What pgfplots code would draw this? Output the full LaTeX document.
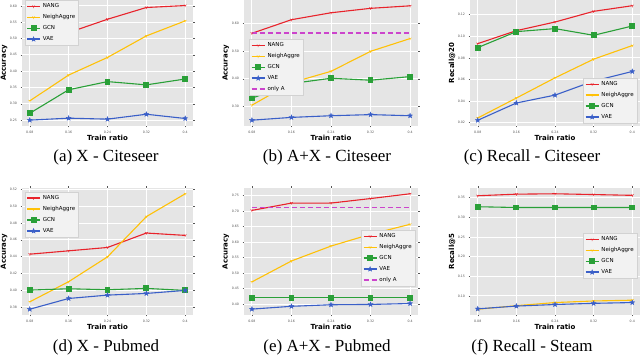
\documentclass[border=0pt]{standalone}
\usepackage{fontspec}
\setmainfont{Liberation Serif}
\newfontfamily\dejavu{DejaVu Sans}
\usepackage{pgfplots}
\pgfplotsset{compat=1.18}
\usetikzlibrary{plotmarks}

\definecolor{nangred}{HTML}{E8232B}
\definecolor{neighyel}{HTML}{FFC107}
\definecolor{gcngreen}{HTML}{2AA038}
\definecolor{vaeblue}{HTML}{3A5FC8}
\definecolor{onlyamag}{HTML}{CC44CC}
\definecolor{ggbg}{HTML}{E5E5E5}
\definecolor{ticktxt}{HTML}{555555}

% filled five-pointed star, like matplotlib's '*'
\pgfdeclareplotmark{fstar}{%
  \pgfpathmoveto{\pgfpointpolar{90}{\pgfplotmarksize}}%
  \pgfpathlineto{\pgfpointpolar{126}{0.42\pgfplotmarksize}}%
  \pgfpathlineto{\pgfpointpolar{162}{\pgfplotmarksize}}%
  \pgfpathlineto{\pgfpointpolar{198}{0.42\pgfplotmarksize}}%
  \pgfpathlineto{\pgfpointpolar{234}{\pgfplotmarksize}}%
  \pgfpathlineto{\pgfpointpolar{270}{0.42\pgfplotmarksize}}%
  \pgfpathlineto{\pgfpointpolar{306}{\pgfplotmarksize}}%
  \pgfpathlineto{\pgfpointpolar{342}{0.42\pgfplotmarksize}}%
  \pgfpathlineto{\pgfpointpolar{18}{\pgfplotmarksize}}%
  \pgfpathlineto{\pgfpointpolar{54}{0.42\pgfplotmarksize}}%
  \pgfpathclose
  \pgfusepathqfillstroke
}

\pgfplotsset{
  gg/.style={
    scale only axis,
    anchor=south west,
    xmin=0.064, xmax=0.416,
    xtick={0.08,0.16,0.24,0.32,0.4},
    xticklabels={0.08,0.16,0.24,0.32,0.4},
    axis background/.style={fill=ggbg},
    axis line style={draw=none},
    grid=major,
    major grid style={white, line width=0.9pt},
    tick align=outside,
    major tick length=1.5pt,
    tick style={ticktxt, line width=0.4pt},
    tick label style={font=\dejavu\fontsize{3.2}{4}\selectfont, text=ticktxt},
    /pgf/number format/assume math mode=true,
    scaled y ticks=false,
    yticklabel style={/pgf/number format/fixed, /pgf/number format/fixed zerofill, /pgf/number format/precision=2},
    xlabel={Train ratio},
    xlabel style={font=\dejavu\bfseries\fontsize{7}{8}\selectfont, at={(axis description cs:0.5,-0.095)}, anchor=center},
    ylabel style={font=\dejavu\bfseries\fontsize{7}{8}\selectfont, at={(axis description cs:-0.105,0.5)}, anchor=center},
    legend style={font=\dejavu\fontsize{5.5}{6}\selectfont, fill=ggbg!50, draw=gray!35, row sep=1.3pt, inner sep=1.5pt, cells={anchor=west}},
    legend image code/.code={%
      \draw[##1, line width=1.6pt, mark=none] (0pt,0pt) -- (13pt,0pt);
      \draw[##1] plot coordinates {(6.5pt,0pt)};},
  },
  nang/.style={color=nangred, line width=1.1pt, mark=Mercedes star flipped, mark size=1.6pt, mark options={solid, line width=0.5pt}},
  neigh/.style={color=neighyel, line width=1.1pt, mark=Mercedes star flipped, mark size=1.6pt, mark options={solid, line width=0.5pt}},
  gcn/.style={color=gcngreen, line width=1.1pt, mark=square*, mark size=2.4pt, mark options={solid, fill=gcngreen}},
  vae/.style={color=vaeblue, line width=1.1pt, mark=fstar, mark size=2.6pt, mark options={solid, fill=vaeblue, line width=0.3pt}},
  onlya/.style={color=onlyamag, line width=1.1pt, dash pattern=on 5.5pt off 2.5pt, no marks},
}

\begin{document}
\begin{tikzpicture}
\useasboundingbox (0,0) rectangle (640pt,356pt);

% (a) X - Citeseer
\begin{axis}[gg, at={(22pt,230pt)}, width=171pt, height=126pt,
  ymin=0.232, ymax=0.618, ytick={0.25,0.30,...,0.61}, ylabel={Accuracy},
  legend style={at={(0.015,1.0)}, anchor=north west}]
\addplot[nang] coordinates {(0.08,0.493) (0.16,0.518) (0.24,0.559) (0.32,0.595) (0.4,0.601)};
\addplot[neigh] coordinates {(0.08,0.309) (0.16,0.388) (0.24,0.442) (0.32,0.508) (0.4,0.554)};
\addplot[gcn] coordinates {(0.08,0.271) (0.16,0.343) (0.24,0.368) (0.32,0.358) (0.4,0.376)};
\addplot[vae] coordinates {(0.08,0.250) (0.16,0.256) (0.24,0.253) (0.32,0.268) (0.4,0.255)};
\legend{NANG, NeighAggre, GCN, VAE}
\end{axis}

% (b) A+X - Citeseer
\begin{axis}[gg, at={(244pt,230pt)}, width=174pt, height=126pt,
  ymin=0.230, ymax=0.684, ytick={0.3,0.4,0.5,0.6}, ylabel={Accuracy},
  legend style={at={(0.03,0.69)}, anchor=north west}]
\addplot[nang] coordinates {(0.08,0.564) (0.16,0.613) (0.24,0.638) (0.32,0.654) (0.4,0.663)};
\addplot[neigh] coordinates {(0.08,0.305) (0.16,0.386) (0.24,0.427) (0.32,0.499) (0.4,0.545)};
\addplot[gcn] coordinates {(0.08,0.330) (0.16,0.383) (0.24,0.402) (0.32,0.395) (0.4,0.408)};
\addplot[vae] coordinates {(0.08,0.251) (0.16,0.261) (0.24,0.267) (0.32,0.271) (0.4,0.267)};
\addplot[onlya] coordinates {(0.08,0.565) (0.16,0.565) (0.24,0.565) (0.32,0.565) (0.4,0.565)};
\legend{NANG, NeighAggre, GCN, VAE, only A}
\end{axis}

% (c) Recall - Citeseer
\begin{axis}[gg, at={(470pt,230pt)}, width=170pt, height=126pt,
  ymin=0.0169, ymax=0.1336, ytick={0.02,0.04,0.06,0.08,0.10,0.12}, ylabel={Recall@20},
  legend style={at={(0.985,0.02)}, anchor=south east}]
\addplot[nang] coordinates {(0.08,0.0932) (0.16,0.1052) (0.24,0.1132) (0.32,0.1231) (0.4,0.1283)};
\addplot[neigh] coordinates {(0.08,0.0243) (0.16,0.0428) (0.24,0.0615) (0.32,0.0788) (0.4,0.0914)};
\addplot[gcn] coordinates {(0.08,0.0895) (0.16,0.1043) (0.24,0.1071) (0.32,0.1009) (0.4,0.1095)};
\addplot[vae] coordinates {(0.08,0.0222) (0.16,0.0382) (0.24,0.0455) (0.32,0.0585) (0.4,0.0674)};
\legend{NANG, NeighAggre, GCN, VAE}
\end{axis}

% (d) X - Pubmed
\begin{axis}[gg, at={(22pt,41pt)}, width=171pt, height=127pt,
  ymin=0.3703, ymax=0.5217, ytick={0.38,0.40,...,0.53}, ylabel={Accuracy},
  legend style={at={(0.015,0.97)}, anchor=north west}]
\addplot[nang] coordinates {(0.08,0.4428) (0.16,0.4468) (0.24,0.4508) (0.32,0.468) (0.4,0.4652)};
\addplot[neigh] coordinates {(0.08,0.386) (0.16,0.410) (0.24,0.4396) (0.32,0.4876) (0.4,0.5148)};
\addplot[gcn] coordinates {(0.08,0.400) (0.16,0.4016) (0.24,0.4004) (0.32,0.402) (0.4,0.3996)};
\addplot[vae] coordinates {(0.08,0.3772) (0.16,0.390) (0.24,0.394) (0.32,0.396) (0.4,0.3996)};
\legend{NANG, NeighAggre, GCN, VAE}
\end{axis}

% (e) A+X - Pubmed
\begin{axis}[gg, at={(244pt,41pt)}, width=174pt, height=127pt,
  ymin=0.365, ymax=0.774, ytick={0.40,0.45,...,0.76}, ylabel={Accuracy},
  legend style={at={(0.985,0.67)}, anchor=north east}]
\addplot[nang] coordinates {(0.08,0.7018) (0.16,0.7254) (0.24,0.7254) (0.32,0.740) (0.4,0.7554)};
\addplot[neigh] coordinates {(0.08,0.4716) (0.16,0.539) (0.24,0.587) (0.32,0.625) (0.4,0.657)};
\addplot[gcn] coordinates {(0.08,0.420) (0.16,0.420) (0.24,0.420) (0.32,0.420) (0.4,0.420)};
\addplot[vae] coordinates {(0.08,0.384) (0.16,0.393) (0.24,0.398) (0.32,0.399) (0.4,0.402)};
\addplot[onlya] coordinates {(0.08,0.7125) (0.16,0.7125) (0.24,0.7125) (0.32,0.7125) (0.4,0.7125)};
\legend{NANG, NeighAggre, GCN, VAE, only A}
\end{axis}

% (f) Recall - Steam
\begin{axis}[gg, at={(470pt,41pt)}, width=170pt, height=127pt,
  ymin=0.0513, ymax=0.3747, ytick={0.10,0.15,...,0.36}, ylabel={Recall@5},
  legend style={at={(0.985,0.645)}, anchor=north east}]
\addplot[nang] coordinates {(0.08,0.355) (0.16,0.359) (0.24,0.360) (0.32,0.358) (0.4,0.356)};
\addplot[neigh] coordinates {(0.08,0.066) (0.16,0.075) (0.24,0.083) (0.32,0.087) (0.4,0.089)};
\addplot[gcn] coordinates {(0.08,0.327) (0.16,0.325) (0.24,0.325) (0.32,0.325) (0.4,0.325)};
\addplot[vae] coordinates {(0.08,0.067) (0.16,0.074) (0.24,0.078) (0.32,0.081) (0.4,0.083)};
\legend{NANG, NeighAggre, GCN, VAE}
\end{axis}

\node[font=\fontsize{17}{18}\selectfont] at (106pt,199pt) {(a) X - Citeseer};
\node[font=\fontsize{17}{18}\selectfont] at (327pt,199pt) {(b) A+X - Citeseer};
\node[font=\fontsize{17}{18}\selectfont] at (532pt,199pt) {(c) Recall - Citeseer};
\node[font=\fontsize{17}{18}\selectfont] at (106pt,9pt) {(d) X - Pubmed};
\node[font=\fontsize{17}{18}\selectfont] at (327pt,9pt) {(e) A+X - Pubmed};
\node[font=\fontsize{17}{18}\selectfont] at (532pt,9pt) {(f) Recall - Steam};
\end{tikzpicture}
\end{document}
